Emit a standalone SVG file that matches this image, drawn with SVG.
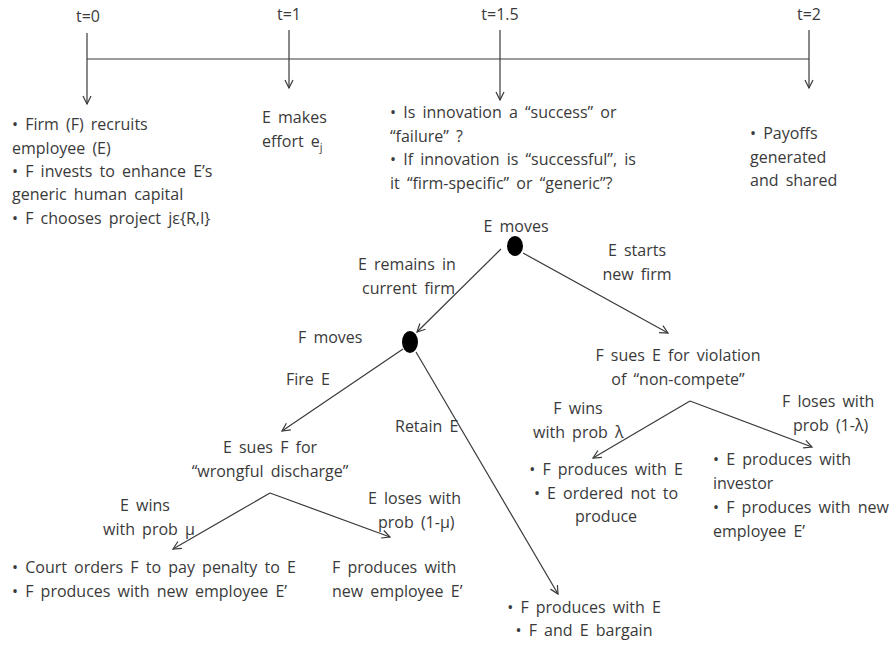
<svg xmlns="http://www.w3.org/2000/svg" width="896" height="647" viewBox="0 0 896 647">
<defs>
<marker id="arr" markerUnits="userSpaceOnUse" markerWidth="10" markerHeight="10" viewBox="0 0 10 10" refX="9" refY="5" orient="auto">
<path d="M1,1 L9,5 L1,9" fill="none" stroke="#3a3a3a" stroke-width="1.2"/>
</marker>
<style>
text{font-family:"Open Sans","Liberation Sans",Arial,sans-serif;font-size:16px;fill:#3a3a3a;word-spacing:3px}
.c{text-anchor:middle}
.ln{stroke:#3a3a3a;stroke-width:1.2;fill:none}
.ar{stroke:#3a3a3a;stroke-width:1.2;fill:none;marker-end:url(#arr)}
.dot{fill:#000}
</style>
</defs>
<rect width="896" height="647" fill="#fff"/>

<g id="connectors">
<line class="ln" x1="87" y1="59" x2="809" y2="59"/>
<line class="ar" x1="87" y1="33" x2="87" y2="104"/>
<line class="ar" x1="289" y1="30" x2="289" y2="88"/>
<line class="ar" x1="500" y1="30" x2="500" y2="100"/>
<line class="ar" x1="809" y1="30" x2="809" y2="88"/>
<line class="ar" x1="501" y1="249" x2="417" y2="332"/>
<line class="ar" x1="523" y1="253" x2="668" y2="333"/>
<line class="ar" x1="403" y1="349" x2="282" y2="431"/>
<line class="ar" x1="416" y1="352" x2="558" y2="594"/>
<line class="ar" x1="270" y1="493" x2="173" y2="549"/>
<line class="ar" x1="270" y1="493" x2="390" y2="537"/>
<line class="ar" x1="690" y1="401" x2="593" y2="458"/>
<line class="ar" x1="690" y1="401" x2="812" y2="447"/>
</g>

<g id="t0">
<text class="c" x="88" y="22">t=0</text>
<text x="12" y="130">• Firm (F) recruits</text>
<text x="12" y="154">employee (E)</text>
<text x="12" y="177">• F invests to enhance E’s</text>
<text x="12" y="200">generic human capital</text>
<text x="12" y="224">• F chooses project jε{R,I}</text>
</g>
<g id="t1">
<text class="c" x="289" y="20">t=1</text>
<text x="262" y="123">E makes</text>
<text x="262" y="147">effort e<tspan dy="4" font-size="11">j</tspan></text>
</g>
<g id="t15">
<text class="c" x="500" y="20">t=1.5</text>
<text x="390" y="118">• Is innovation a “success” or</text>
<text x="390" y="142">“failure” ?</text>
<text x="390" y="165">• If innovation is “successful”, is</text>
<text x="390" y="189">it “firm-specific” or “generic”?</text>
</g>
<g id="t2">
<text class="c" x="809" y="20">t=2</text>
<text x="750" y="139">• Payoffs</text>
<text x="750" y="163">generated</text>
<text x="750" y="186">and shared</text>
</g>

<g id="node-e">
<ellipse class="dot" cx="515" cy="246" rx="8" ry="10"/>
<text class="c" x="516" y="232">E moves</text>
</g>
<g id="label-remain">
<text x="358" y="270">E remains in</text>
<text x="362" y="294">current firm</text>
</g>
<g id="label-start">
<text class="c" x="637" y="256">E starts</text>
<text class="c" x="637" y="280">new firm</text>
</g>
<g id="node-f">
<ellipse class="dot" cx="410" cy="342" rx="8" ry="11"/>
<text x="298" y="343">F moves</text>
</g>
<g id="label-fire"><text x="286" y="385">Fire E</text></g>
<g id="label-retain"><text x="395" y="432">Retain E</text></g>
<g id="node-esues">
<text class="c" x="270" y="453">E sues F for</text>
<text class="c" x="270" y="477">“wrongful discharge”</text>
</g>
<g id="label-ewins">
<text class="c" x="145" y="511">E wins</text>
<text x="103" y="535">with prob μ</text>
</g>
<g id="label-eloses">
<text x="368" y="504">E loses with</text>
<text x="378" y="528">prob (1-μ)</text>
</g>
<g id="outcome-court">
<text x="12" y="573">• Court orders F to pay penalty to E</text>
<text x="12" y="597">• F produces with new employee E’</text>
</g>
<g id="outcome-fnew">
<text x="332" y="573">F produces with</text>
<text x="332" y="597">new employee E’</text>
</g>
<g id="outcome-retain">
<text class="c" x="584" y="613">• F produces with E</text>
<text class="c" x="584" y="636">• F and E bargain</text>
</g>
<g id="node-fsues">
<text class="c" x="678" y="361">F sues E for violation</text>
<text class="c" x="678" y="385">of “non-compete”</text>
</g>
<g id="label-fwins">
<text class="c" x="578" y="414">F wins</text>
<text x="533" y="438">with prob λ</text>
</g>
<g id="label-floses">
<text x="782" y="407">F loses with</text>
<text x="793" y="431">prob (1-λ)</text>
</g>
<g id="outcome-fwins">
<text class="c" x="606" y="475">• F produces with E</text>
<text class="c" x="606" y="499">• E ordered not to</text>
<text class="c" x="606" y="522">produce</text>
</g>
<g id="outcome-floses">
<text x="713" y="465">• E produces with</text>
<text x="713" y="489">investor</text>
<text x="713" y="513">• F produces with new</text>
<text x="713" y="537">employee E’</text>
</g>
</svg>
